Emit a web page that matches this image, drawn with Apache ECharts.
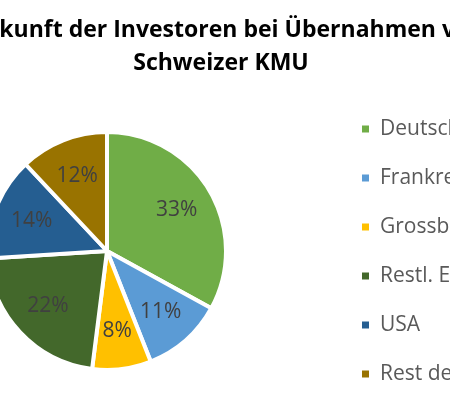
<!DOCTYPE html>
<html><head><meta charset="utf-8">
<script src="https://cdn.jsdelivr.net/npm/echarts@6/dist/echarts.min.js"></script>
<style>html,body{margin:0;padding:0;background:#fff}#c{width:450px;height:395px}</style>
</head><body><div id="c"></div>
<script>
const titleText = 'Herkunft der Investoren bei Übernahmen von\nSchweizer KMU';
const categories = ['Deutschland', 'Frankreich', 'Grossbritannien', 'Restl. Europa', 'USA', 'Rest der Welt'];
const values = [33, 11, 8, 22, 14, 12];
const colors = ['#70AD47', '#5B9BD5', '#FFC000', '#43682B', '#255E91', '#997300'];

const data = categories.map((n, i) => ({ name: n, value: values[i], itemStyle: { color: colors[i] } }));
const font = 'Open Sans';
const chart = echarts.init(document.getElementById('c'));
chart.setOption({
  animation: false,
  title: {
    text: titleText, left: 216, top: 9, textAlign: 'center',
    textStyle: { fontFamily: font, fontWeight: 'bold', fontSize: 23, lineHeight: 33, color: '#000' }
  },
  legend: {
    orient: 'vertical', left: 355, top: 112, icon: 'rect', itemWidth: 9, itemHeight: 9, itemGap: 25,
    data: categories,
    textStyle: { fontFamily: font, fontSize: 21, lineHeight: 24, color: '#595959', padding: [0, 0, 0, 5] }
  },
  series: [{
    type: 'pie', center: [107, 251], radius: 119, startAngle: 90, clockwise: true,
    data: data,
    itemStyle: { borderColor: '#fff', borderWidth: 4 },
    label: { show: false }, labelLine: { show: false }
  }, {
    type: 'pie', center: [107, 251], radius: 156, startAngle: 90, clockwise: true, silent: true,
    data: categories.map((n, i) => ({ name: n, value: values[i] })),
    itemStyle: { color: 'rgba(0,0,0,0)' },
    label: { show: true, position: 'inside', formatter: '{c}%', fontFamily: font, fontSize: 21, color: '#404040' },
    labelLine: { show: false }
  }]
});
</script></body></html>
